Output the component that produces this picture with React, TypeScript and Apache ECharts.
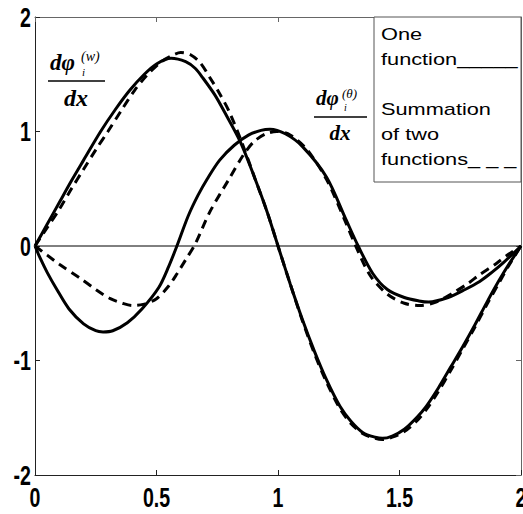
import React, { useEffect, useRef } from "react";
import * as echarts from "echarts";

// Derivative of the w-shape function: single function (solid) and two-function sum (dashed)
const xOneW = [0, 0.05, 0.1, 0.15, 0.2, 0.27, 0.33, 0.39, 0.45, 0.5, 0.56, 0.62, 0.66, 0.69, 0.74, 0.78, 0.845, 0.905, 0.955, 1.0, 1.05, 1.1, 1.15, 1.2, 1.255, 1.3, 1.35, 1.4, 1.43, 1.47, 1.52, 1.57, 1.61, 1.66, 1.71, 1.76, 1.81, 1.86, 1.91, 1.95, 2.0];
const yOneW = [0, 0.19, 0.38, 0.57, 0.75, 1.0, 1.19, 1.36, 1.5, 1.59, 1.64, 1.61, 1.55, 1.47, 1.32, 1.17, 0.91, 0.59, 0.3, 0.0, -0.33, -0.64, -0.92, -1.17, -1.4, -1.53, -1.63, -1.67, -1.68, -1.66, -1.6, -1.5, -1.4, -1.24, -1.06, -0.88, -0.69, -0.49, -0.3, -0.16, 0];

const xSumW = [0, 0.05, 0.1, 0.15, 0.2, 0.25, 0.3, 0.36, 0.41, 0.46, 0.52, 0.56, 0.6, 0.64, 0.68, 0.72, 0.76, 0.8, 0.85, 0.905, 0.955, 1.0, 1.05, 1.1, 1.15, 1.2, 1.255, 1.3, 1.35, 1.4, 1.43, 1.47, 1.52, 1.57, 1.61, 1.66, 1.71, 1.76, 1.81, 1.86, 1.91, 1.95, 2.0];
const ySumW = [0, 0.16, 0.32, 0.5, 0.67, 0.84, 1.0, 1.2, 1.36, 1.49, 1.61, 1.66, 1.69, 1.67, 1.6, 1.47, 1.33, 1.17, 0.91, 0.59, 0.3, 0.0, -0.33, -0.65, -0.94, -1.19, -1.42, -1.55, -1.64, -1.68, -1.69, -1.67, -1.62, -1.53, -1.43, -1.27, -1.09, -0.9, -0.71, -0.51, -0.32, -0.17, 0];

// Derivative of the theta-shape function
const xOneT = [0, 0.02, 0.05, 0.09, 0.14, 0.2, 0.25, 0.28, 0.32, 0.38, 0.44, 0.51, 0.55, 0.584, 0.63, 0.67, 0.71, 0.76, 0.82, 0.88, 0.93, 0.967, 1.03, 1.1, 1.2, 1.28, 1.33, 1.39, 1.45, 1.52, 1.58, 1.62, 1.7, 1.77, 1.83, 1.88, 1.93, 2.0];
const yOneT = [0, -0.1, -0.23, -0.38, -0.55, -0.68, -0.74, -0.75, -0.74, -0.67, -0.55, -0.36, -0.18, 0, 0.26, 0.44, 0.59, 0.75, 0.88, 0.97, 1.01, 1.02, 0.98, 0.87, 0.6, 0.23, 0, -0.24, -0.38, -0.45, -0.48, -0.49, -0.45, -0.38, -0.31, -0.23, -0.14, 0];

const xSumT = [0, 0.05, 0.1, 0.185, 0.25, 0.31, 0.36, 0.4, 0.445, 0.5, 0.55, 0.585, 0.62, 0.66, 0.72, 0.8, 0.856, 0.9, 0.95, 0.995, 1.05, 1.12, 1.2, 1.28, 1.32, 1.38, 1.45, 1.52, 1.585, 1.65, 1.72, 1.78, 1.83, 1.9, 1.95, 2.0];
const ySumT = [0, -0.08, -0.16, -0.28, -0.38, -0.46, -0.5, -0.52, -0.51, -0.46, -0.35, -0.24, -0.12, 0.02, 0.3, 0.59, 0.79, 0.91, 0.98, 1.0, 0.97, 0.84, 0.58, 0.2, 0, -0.26, -0.42, -0.5, -0.52, -0.49, -0.41, -0.33, -0.25, -0.15, -0.07, 0];

const xTickValues = [0, 0.5, 1, 1.5, 2];
const yTickValues = [2, 1, 0, -1, -2];
const legendLines = ["One", "function_____", "", "Summation", "of two", "functions_ _ _"];

const zip = (xs: number[], ys: number[]) => xs.map((x, i) => [x, ys[i]]);

const tickFont = "bold 28px 'Liberation Sans', Arial, sans-serif";
const tickSqueeze = 0.7;
const mathFont = "'Liberation Serif', 'DejaVu Serif', serif";

export default function App() {
  const ref = useRef<HTMLDivElement>(null);

  useEffect(() => {
    if (!ref.current) return;
    const chart = echarts.init(ref.current, undefined, { renderer: "svg" });

    const curve = (name: string, data: number[][], dashed: boolean) => ({
      name,
      type: "line",
      data,
      showSymbol: false,
      smooth: 0.3,
      xAxisIndex: 0,
      yAxisIndex: 0,
      lineStyle: { color: "#000", width: 3, type: dashed ? [9, 6] : "solid" },
      silent: true,
      z: dashed ? 4 : 3,
    });

    const frameAxis = (color: string) => ({
      axisLine: { show: true, onZero: false, lineStyle: { color, width: 1 } },
      axisTick: { show: true, inside: true, length: 5, lineStyle: { color } },
      axisLabel: { show: false },
      splitLine: { show: false },
    });

    // Legend box and the two derivative annotations
    const staticGraphics: any[] = [
      {
        type: "rect",
        z: 10,
        shape: { x: 374, y: 17, width: 147, height: 165 },
        style: { fill: "#fff", stroke: "#555", lineWidth: 1 },
      },
      {
        type: "text",
        z: 11,
        x: 381,
        y: 22,
        scaleX: 1.36,
        style: {
          text: legendLines.join("\n"),
          font: "16px 'Liberation Sans', Arial, sans-serif",
          lineHeight: 25,
          fill: "#000",
          verticalAlign: "top",
        },
      },
      // d(phi_i^(w))/dx
      { type: "text", z: 11, x: 50, y: 62,
        style: { text: "dφ", font: `italic bold 23px ${mathFont}`, fill: "#000", verticalAlign: "middle" } },
      { type: "text", z: 11, x: 81, y: 56,
        style: { text: "(w)", font: `italic 14px ${mathFont}`, fill: "#000", verticalAlign: "middle" } },
      { type: "text", z: 11, x: 82, y: 72,
        style: { text: "i", font: `italic 11px ${mathFont}`, fill: "#000", verticalAlign: "middle" } },
      { type: "line", z: 11, shape: { x1: 48, y1: 81, x2: 105, y2: 81 },
        style: { stroke: "#000", lineWidth: 1.5 } },
      { type: "text", z: 11, x: 76, y: 98,
        style: { text: "dx", font: `italic bold 24px ${mathFont}`, fill: "#000", align: "center", verticalAlign: "middle" } },
      // d(phi_i^(theta))/dx
      { type: "text", z: 11, x: 316, y: 98,
        style: { text: "dφ", font: `italic bold 21px ${mathFont}`, fill: "#000", verticalAlign: "middle" } },
      { type: "text", z: 11, x: 342, y: 93,
        style: { text: "(θ)", font: `italic 13px ${mathFont}`, fill: "#000", verticalAlign: "middle" } },
      { type: "text", z: 11, x: 344, y: 107,
        style: { text: "i", font: `italic 10px ${mathFont}`, fill: "#000", verticalAlign: "middle" } },
      { type: "line", z: 11, shape: { x1: 314, y1: 117, x2: 367, y2: 117 },
        style: { stroke: "#000", lineWidth: 1.5 } },
      { type: "text", z: 11, x: 340, y: 133,
        style: { text: "dx", font: `italic bold 21px ${mathFont}`, fill: "#000", align: "center", verticalAlign: "middle" } },
    ];

    chart.setOption({
      animation: false,
      backgroundColor: "#fff",
      grid: { left: 35, right: 2, top: 17, bottom: 39, containLabel: false, outerBoundsMode: "none" },
      xAxis: [
        { type: "value", min: 0, max: 2, interval: 0.5, position: "bottom", ...frameAxis("#222") },
        { type: "value", min: 0, max: 2, interval: 0.5, position: "top", ...frameAxis("#666") },
      ],
      yAxis: [
        { type: "value", min: -2, max: 2, interval: 1, position: "left", ...frameAxis("#222") },
        { type: "value", min: -2, max: 2, interval: 1, position: "right", ...frameAxis("#666") },
      ],
      series: [
        {
          type: "line",
          data: [[0, 0], [2, 0]],
          showSymbol: false,
          lineStyle: { color: "#000", width: 1 },
          silent: true,
          z: 2,
        },
        curve("One function w", zip(xOneW, yOneW), false),
        curve("One function theta", zip(xOneT, yOneT), false),
        curve("Summation w", zip(xSumW, ySumW), true),
        curve("Summation theta", zip(xSumT, ySumT), true),
      ],
      graphic: staticGraphics,
    });

    // Condensed tick labels, placed at the axis ticks through the grid's own scales
    const xLabels = xTickValues.map((v) => {
      const [px, py] = chart.convertToPixel({ gridIndex: 0 }, [v, -2]) as number[];
      return {
        type: "text", z: 11, x: px, y: py + 22, scaleX: tickSqueeze,
        style: { text: String(v), font: tickFont, fill: "#000", align: "center", verticalAlign: "middle" },
      };
    });
    const yLabels = yTickValues.map((v) => {
      const [px, py] = chart.convertToPixel({ gridIndex: 0 }, [0, v]) as number[];
      return {
        type: "text", z: 11, x: px - 4, y: py, scaleX: tickSqueeze,
        style: { text: String(v), font: tickFont, fill: "#000", align: "right", verticalAlign: "middle" },
      };
    });
    chart.setOption({ graphic: [...staticGraphics, ...xLabels, ...yLabels] }, { replaceMerge: ["graphic"] });

    return () => chart.dispose();
  }, []);

  return (
    <div
      ref={ref}
      style={{ position: "fixed", left: 0, top: 0, width: 523, height: 514, background: "#fff" }}
    />
  );
}
